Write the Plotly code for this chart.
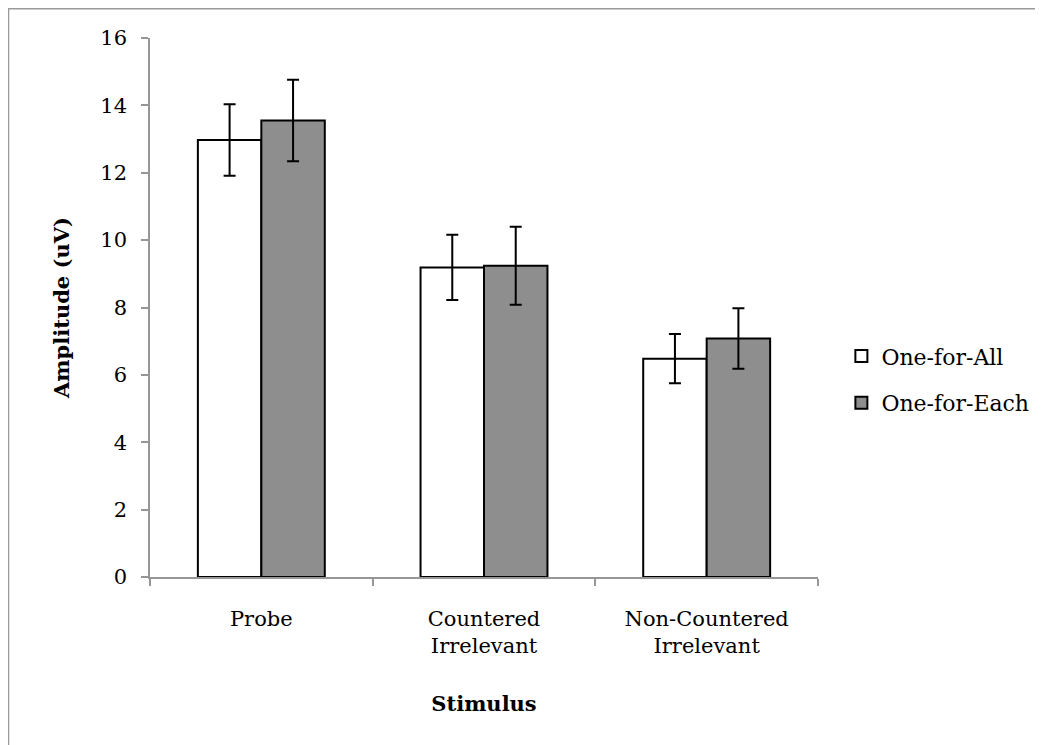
import plotly.graph_objects as go

categories = ["Probe", "Countered<br>Irrelevant", "Non-Countered<br>Irrelevant"]
one_for_all = [12.97, 9.19, 6.48]
one_for_all_err = [1.06, 0.97, 0.73]
one_for_each = [13.55, 9.24, 7.08]
one_for_each_err = [1.21, 1.16, 0.90]
y_ticks = [0, 2, 4, 6, 8, 10, 12, 14, 16]

FONT = "DejaVu Serif"
AXIS_GRAY = "#969696"

fig = go.Figure()
fig.add_trace(go.Bar(
    name="One-for-All", x=categories, y=one_for_all,
    marker=dict(color="white", line=dict(color="black", width=2)),
    error_y=dict(type="data", array=one_for_all_err, color="black", thickness=2, width=6),
    legendgroup="a",
))
fig.add_trace(go.Bar(
    name="One-for-Each", x=categories, y=one_for_each,
    marker=dict(color="#8e8e8e", line=dict(color="black", width=2)),
    error_y=dict(type="data", array=one_for_each_err, color="black", thickness=2, width=6),
    legendgroup="b",
))

fig.update_layout(
    width=1035, height=737,
    margin=dict(l=142, r=225, t=30, b=168, autoexpand=False),
    paper_bgcolor="white", plot_bgcolor="white",
    barmode="group", bargap=0.43, bargroupgap=0,
    font=dict(family=FONT, size=21, color="black"),
    showlegend=True,
    legend=dict(x=1.035, xanchor="left", y=0.366, yanchor="middle",
                font=dict(family=FONT, size=22, color="black"),
                traceorder="grouped", tracegroupgap=15,
                bgcolor="rgba(0,0,0,0)"),
    xaxis=dict(
        showline=True, linecolor=AXIS_GRAY, linewidth=1.5,
        ticks="outside", tickson="boundaries", ticklen=7, tickcolor=AXIS_GRAY, tickwidth=1.5,
        tickfont=dict(family=FONT, size=21), ticklabelstandoff=22,
        showgrid=False, zeroline=False,
        title=dict(text="<b>Stimulus</b>", font=dict(family=FONT, size=21), standoff=39),
    ),
    yaxis=dict(
        range=[0, 16], tickvals=y_ticks,
        showline=True, linecolor=AXIS_GRAY, linewidth=1.5,
        ticks="outside", ticklen=7, tickcolor=AXIS_GRAY, tickwidth=1.5,
        tickfont=dict(family=FONT, size=21), ticklabelstandoff=10,
        showgrid=False, zeroline=False,
        title=dict(text="<b>Amplitude (uV)</b>", font=dict(family=FONT, size=21), standoff=25),
    ),
    shapes=[dict(type="rect", xref="paper", yref="paper",
                 x0=-0.2118, x1=1.5, y0=-0.6, y1=1.0544,
                 line=dict(color="#9a9a9a", width=1.5), layer="below")],
)

fig.write_html("out.html")
